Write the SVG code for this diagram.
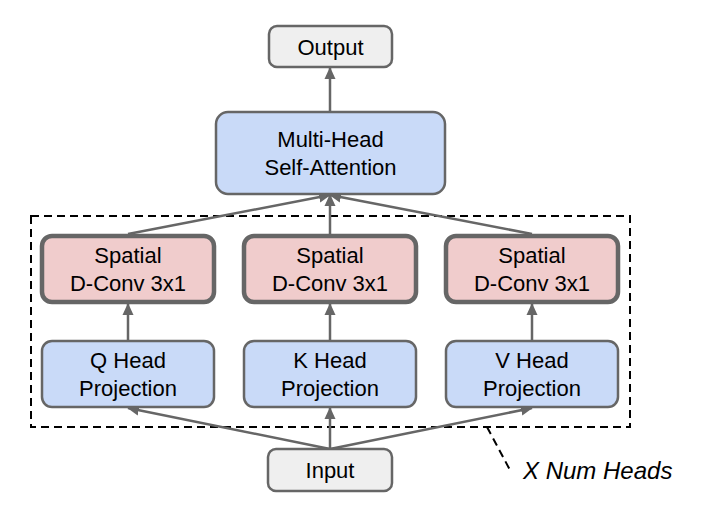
<svg xmlns="http://www.w3.org/2000/svg" width="702" height="524" viewBox="0 0 702 524">
<style>
.t{font-family:"Liberation Sans",Arial,sans-serif;font-size:22px;fill:#000;text-anchor:middle}
.gray{fill:#efefef;stroke:#666;stroke-width:2.5}
.blue{fill:#c9daf8;stroke:#666;stroke-width:2.5}
.red{fill:#f0cccc;stroke:#666;stroke-width:4.5}
.c{stroke:#666;stroke-width:2.5;fill:none;marker-end:url(#ah)}
.dash{stroke:#000;stroke-width:2;fill:none;stroke-dasharray:8 5}
</style>
<defs>
<marker id="ah" viewBox="0 0 12 12" refX="11" refY="6" markerWidth="12" markerHeight="12" markerUnits="userSpaceOnUse" orient="auto">
<path d="M0,0.5 L12,6 L0,11.5 z" fill="#666"/>
</marker>
</defs>
<rect width="702" height="524" fill="#fff"/>
<g id="group-box">
<rect class="dash" x="31" y="216" width="599" height="211"/>
<path class="dash" d="M487,427 L510,470"/>
<text x="523" y="479" style="font-family:'Liberation Sans',Arial,sans-serif;font-size:24px;font-style:italic">X Num Heads</text>
</g>
<g id="connectors">
<path class="c" d="M330,449 L128,408"/>
<path class="c" d="M330,449 L330,408"/>
<path class="c" d="M330,449 L532,408"/>
<path class="c" d="M128,340 L128,304"/>
<path class="c" d="M330,340 L330,304"/>
<path class="c" d="M532,340 L532,304"/>
<path class="c" d="M128,234 L330,195"/>
<path class="c" d="M330,234 L330,195"/>
<path class="c" d="M532,234 L330,195"/>
<path class="c" d="M330,111 L330,68"/>
</g>
<g id="output">
<rect class="gray" x="269" y="26" width="123" height="41" rx="8"/>
<text class="t" x="330.5" y="55">Output</text>
</g>
<g id="mhsa">
<rect class="blue" x="216" y="112" width="229" height="82" rx="12"/>
<text class="t" x="330.5" y="147">Multi-Head</text>
<text class="t" x="330.5" y="175">Self-Attention</text>
</g>
<g id="spatial-q">
<rect class="red" x="42" y="236" width="172" height="66" rx="10"/>
<text class="t" x="128" y="263">Spatial</text>
<text class="t" x="128" y="291">D-Conv 3x1</text>
</g>
<g id="spatial-k">
<rect class="red" x="244" y="236" width="172" height="66" rx="10"/>
<text class="t" x="330" y="263">Spatial</text>
<text class="t" x="330" y="291">D-Conv 3x1</text>
</g>
<g id="spatial-v">
<rect class="red" x="446" y="236" width="172" height="66" rx="10"/>
<text class="t" x="532" y="263">Spatial</text>
<text class="t" x="532" y="291">D-Conv 3x1</text>
</g>
<g id="q-head">
<rect class="blue" x="42" y="341" width="172" height="66" rx="10"/>
<text class="t" x="128" y="368">Q Head</text>
<text class="t" x="128" y="396">Projection</text>
</g>
<g id="k-head">
<rect class="blue" x="244" y="341" width="172" height="66" rx="10"/>
<text class="t" x="330" y="368">K Head</text>
<text class="t" x="330" y="396">Projection</text>
</g>
<g id="v-head">
<rect class="blue" x="446" y="341" width="172" height="66" rx="10"/>
<text class="t" x="532" y="368">V Head</text>
<text class="t" x="532" y="396">Projection</text>
</g>
<g id="input">
<rect class="gray" x="268" y="449" width="124" height="42" rx="8"/>
<text class="t" x="330" y="478">Input</text>
</g>
</svg>
